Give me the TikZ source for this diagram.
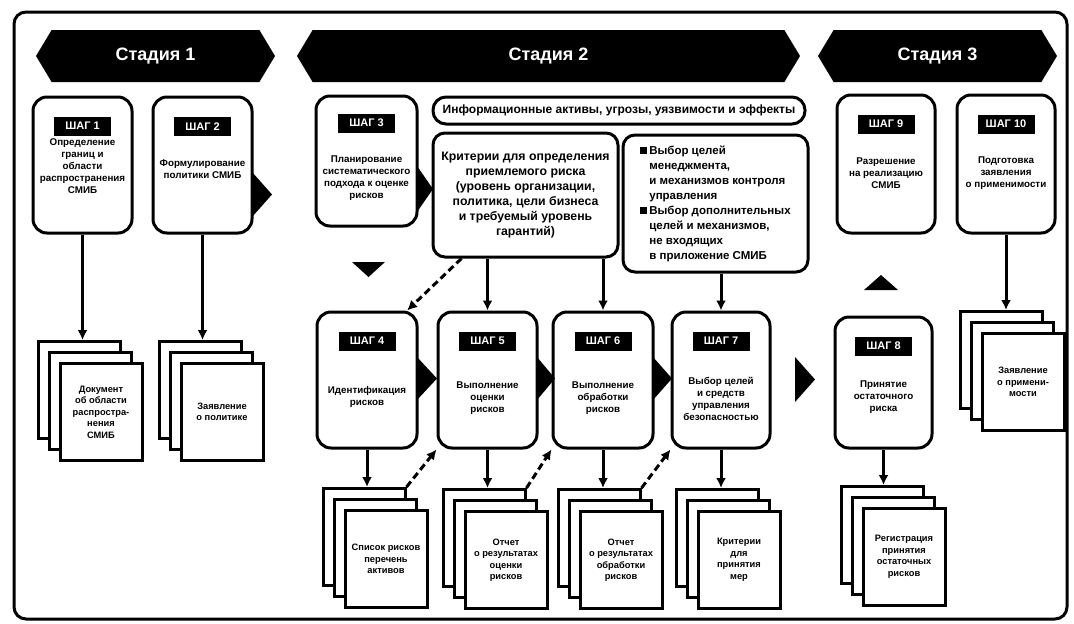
\documentclass[tikz,border=0pt]{standalone}
\usepackage{fontspec}
\setmainfont{Liberation Sans}
\usetikzlibrary{positioning,arrows.meta,shapes.symbols}

\begin{document}
\begin{tikzpicture}[x=1pt,y=-1pt,
	stage/.style={signal, signal to=west and east, signal pointer angle=118, fill=black, text=white, inner sep=0pt, minimum height=52pt, font=\fontsize{18}{20}\selectfont\bfseries},
	stepbox/.style={draw, line width=3pt, rounded corners=14pt, minimum width=99pt, minimum height=136pt, inner sep=0pt},
	hdr/.style={fill=black, text=white, minimum width=57pt, minimum height=19pt, inner sep=0pt, font=\fontsize{11}{12}\selectfont\bfseries},
	txt/.style={align=center, inner sep=0pt, font=\fontsize{9.8}{12}\selectfont\bfseries},
	sheet/.style={draw, fill=white, line width=3pt, minimum width=82pt, minimum height=97pt, inner sep=0pt, align=center, font=\fontsize{9.3}{11.5}\selectfont\bfseries},
	infobox/.style={draw, line width=3pt, rounded corners=12pt, inner sep=0pt, font=\fontsize{11.5}{15}\selectfont\bfseries},
	arr/.style={line width=3pt, -{Latex[length=10pt,width=10pt]}},
	darr/.style={arr, dash pattern=on 7pt off 4pt},
	]
	\useasboundingbox (0,0) rectangle (1074,624);
	\draw[line width=3pt, rounded corners=12pt] (14,12) rectangle (1067,619);

	\node[stage, minimum width=239pt] (st1) at (155.5,56) {Стадия 1};
	\node[stage, minimum width=503pt] (st2) at (548.5,56) {Стадия 2};
	\node[stage, minimum width=239pt] (st3) at (937.5,56) {Стадия 3};

	% stage 1
	\node[stepbox] (s1) at (82.5,165) {};
	\node[hdr, below=21pt of s1.north] (h1) {ШАГ 1};
	\node[txt] (t1) at ([yshift=-71pt]s1.north) {Определение\\границ и\\области\\распространения\\СМИБ};
	\node[stepbox] (s2) at (202.5,165) {};
	\node[hdr, below=21pt of s2.north] (h2) {ШАГ 2};
	\node[txt] (t2) at ([yshift=-74pt]s2.north) {Формулирование\\политики СМИБ};

	% stage 2
	\node[stepbox, minimum width=101pt, minimum height=130pt] (s3) at (366.5,161) {};
	\node[hdr, below=19pt of s3.north] (h3) {ШАГ 3};
	\node[txt] (t3) at ([yshift=-84pt]s3.north) {Планирование\\систематического\\подхода к оценке\\рисков};

	\node[infobox, rounded corners=13pt, minimum width=372pt, minimum height=27pt, font=\fontsize{12}{15}\selectfont\bfseries] (info) at (619,110.5) {Информационные активы, угрозы, уязвимости и эффекты};
	\node[infobox, minimum width=185pt, minimum height=124pt, align=center, font=\fontsize{12.3}{15}\selectfont\bfseries] (crit) at (525.5,195) {Критерии для определения\\приемлемого риска\\(уровень организации,\\политика, цели бизнеса\\и требуемый уровень\\гарантий)};
	\node[infobox, minimum width=185pt, minimum height=137pt, align=left] (ctrl) at (715.5,203.5) {\rule{7pt}{7pt}\,Выбор целей\\\hspace*{9pt}менеджмента,\\\hspace*{9pt}и механизмов контроля\\\hspace*{9pt}управления\\\rule{7pt}{7pt}\,Выбор дополнительных\\\hspace*{9pt}целей и механизмов,\\\hspace*{9pt}не входящих\\\hspace*{9pt}в приложение СМИБ};

	\node[stepbox, minimum width=100pt] (s4) at (367,380) {};
	\node[hdr, below=21pt of s4.north] (h4) {ШАГ 4};
	\node[txt] (t4) at ([yshift=-86pt]s4.north) {Идентификация\\рисков};
	\node[stepbox] (s5) at (487.5,380) {};
	\node[hdr, below=21pt of s5.north] (h5) {ШАГ 5};
	\node[txt] (t5) at ([yshift=-88pt]s5.north) {Выполнение\\оценки\\рисков};
	\node[stepbox, minimum width=100pt] (s6) at (603,380) {};
	\node[hdr, below=21pt of s6.north] (h6) {ШАГ 6};
	\node[txt] (t6) at ([yshift=-88pt]s6.north) {Выполнение\\обработки\\рисков};
	\node[stepbox, minimum width=98pt] (s7) at (721,380) {};
	\node[hdr, below=21pt of s7.north] (h7) {ШАГ 7};
	\node[txt] (t7) at ([yshift=-88pt]s7.north) {Выбор целей\\и средств\\управления\\безопасностью};

	% stage 3
	\node[stepbox, minimum width=98pt, minimum height=138pt] (s9) at (886,164) {};
	\node[hdr, below=21pt of s9.north] (h9) {ШАГ 9};
	\node[txt] (t9) at ([yshift=-80pt]s9.north) {Разрешение\\на реализацию\\СМИБ};
	\node[stepbox, minimum width=98pt, minimum height=138pt] (s10) at (1006,164) {};
	\node[hdr, below=21pt of s10.north] (h10) {ШАГ 10};
	\node[txt] (t10) at ([yshift=-80pt]s10.north) {Подготовка\\заявления\\о применимости};
	\node[stepbox, minimum width=97pt, minimum height=131pt] (s8) at (883.5,382.5) {};
	\node[hdr, below=21pt of s8.north] (h8) {ШАГ 8};
	\node[txt] (t8) at ([yshift=-82pt]s8.north) {Принятие\\остаточного\\риска};

	% documents
	\node[sheet] (d1a) at (79,390) {};
	\node[sheet] (d1b) at (90,401) {};
	\node[sheet] (d1) at (101,412) {Документ\\об области\\распростра-\\нения\\СМИБ};
	\node[sheet] (d2a) at (200,390) {};
	\node[sheet] (d2b) at (211,401) {};
	\node[sheet] (d2) at (222,412) {Заявление\\о политике};
	\node[sheet] (d4a) at (364,537) {};
	\node[sheet] (d4b) at (375,548) {};
	\node[sheet] (d4) at (386,559) {Список рисков\\перечень\\активов};
	\node[sheet] (d5a) at (484,538) {};
	\node[sheet] (d5b) at (495,549) {};
	\node[sheet] (d5) at (506,560) {Отчет\\о результатах\\оценки\\рисков};
	\node[sheet] (d6a) at (599,538) {};
	\node[sheet] (d6b) at (610,549) {};
	\node[sheet] (d6) at (621,560) {Отчет\\о результатах\\обработки\\рисков};
	\node[sheet] (d7a) at (717,538) {};
	\node[sheet] (d7b) at (728,549) {};
	\node[sheet] (d7) at (739,560) {Критерии\\для\\принятия\\мер};
	\node[sheet] (d8a) at (882,535) {};
	\node[sheet] (d8b) at (893,546) {};
	\node[sheet] (d8) at (904,557) {Регистрация\\принятия\\остаточных\\рисков};
	\node[sheet] (d10a) at (1001,360) {};
	\node[sheet] (d10b) at (1012,371) {};
	\node[sheet] (d10) at (1023,382) {Заявление\\о примени-\\мости};

	% triangles
	\fill (252,172) -- (272,194.5) -- (252,217) -- cycle;
	\fill (417,166) -- (433,189) -- (417,212) -- cycle;
	\fill (417,357) -- (437,378.5) -- (417,400) -- cycle;
	\fill (537,357) -- (555,378.5) -- (537,400) -- cycle;
	\fill (653,357) -- (672,378.5) -- (653,400) -- cycle;
	\fill (795,357) -- (815,379.5) -- (795,402) -- cycle;
	\fill (352,262) -- (385,262) -- (368.5,277) -- cycle;
	\fill (864,290) -- (898,290) -- (881,275) -- cycle;

	% arrows
	\draw[arr] (s1.south) -- (s1.south |- d1a.north);
	\draw[arr] (s2.south) -- (s2.south |- d2a.north);
	\draw[arr] (s4.south) -- (s4.south |- d4a.north);
	\draw[arr] (s5.south) -- (s5.south |- d5a.north);
	\draw[arr] (s6.south) -- (s6.south |- d6a.north);
	\draw[arr] (s7.south) -- (s7.south |- d7a.north);
	\draw[arr] (s8.south) -- (s8.south |- d8a.north);
	\draw[arr] (s10.south) -- (s10.south |- d10a.north);
	\draw[arr] (crit.south -| s5.north) -- (s5.north);
	\draw[arr] (crit.south -| s6.north) -- (s6.north);
	\draw[arr] (ctrl.south -| s7.north) -- (s7.north);

	\draw[darr] ([xshift=30pt]crit.south west) -- (s4.60);
	\draw[darr] (d4a.north east) -- (s5.south west);
	\draw[darr] (d5a.north east) -- (s6.south west);
	\draw[darr] (d6a.north east) -- (s7.south west);
\end{tikzpicture}
\end{document}
